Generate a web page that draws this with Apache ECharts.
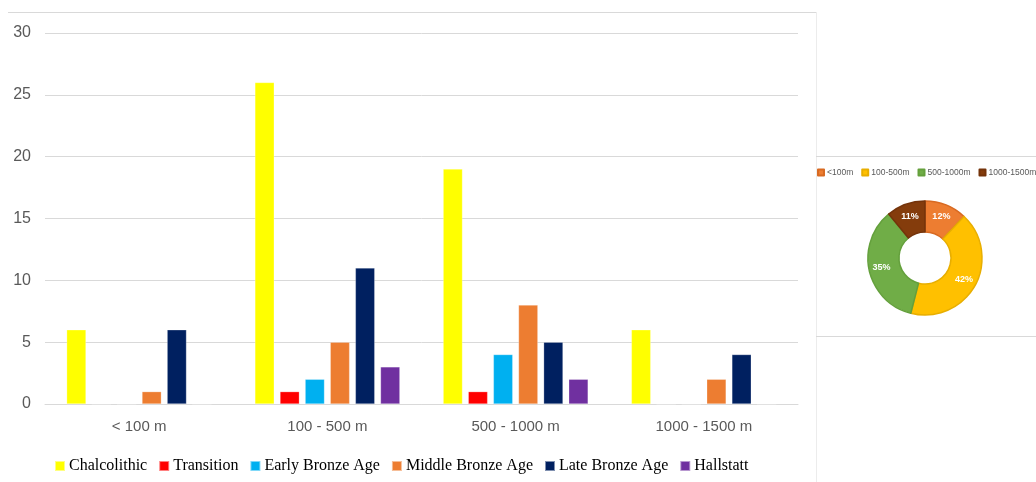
<!DOCTYPE html>
<html>
<head>
<meta charset="utf-8">
<script src="https://cdn.jsdelivr.net/npm/echarts@6/dist/echarts.min.js"></script>
<style>
  html, body { margin: 0; padding: 0; background: #ffffff; }
  #chart { width: 1036px; height: 482px; }
</style>
</head>
<body>
<div id="chart"></div>
<script>
// Altitude bands and site counts per period
const altitudeBands = ['< 100 m', '100 - 500 m', '500 - 1000 m', '1000 - 1500 m'];
const chalcolithic   = [6, 26, 19, 6];
const transition     = [0, 1, 1, 0];
const earlyBronze    = [0, 2, 4, 0];
const middleBronze   = [1, 5, 8, 2];
const lateBronze     = [6, 11, 5, 4];
const hallstatt      = [0, 3, 2, 0];
const yTicks = { min: 0, max: 30, step: 5 };

// Share of sites by altitude (donut)
const pieBands  = ['<100m', '100-500m', '500-1000m', '1000-1500m'];
const pieShares = [12, 42, 35, 11];

const periods = [
  { name: 'Chalcolithic',      data: chalcolithic, color: '#FFFF00' },
  { name: 'Transition',        data: transition,   color: '#FF0000' },
  { name: 'Early Bronze Age',  data: earlyBronze,  color: '#00B0F0' },
  { name: 'Middle Bronze Age', data: middleBronze, color: '#ED7D31' },
  { name: 'Late Bronze Age',   data: lateBronze,   color: '#002060' },
  { name: 'Hallstatt',         data: hallstatt,    color: '#7030A0' }
];
const pieColors  = ['#ED7D31', '#FFC000', '#70AD47', '#843C0C'];
const pieBorders = ['#D86A22', '#E8AE00', '#64A03C', '#74330A'];

const chart = echarts.init(document.getElementById('chart'), null, { renderer: 'canvas' });

const frame = '#d9d9d9';
const option = {
  animation: false,
  backgroundColor: '#ffffff',
  grid: { left: 45, right: 238, top: 33, bottom: 78, containLabel: false },
  legend: [{
    data: periods.map(p => p.name),
    left: 49, top: 453,
    itemWidth: 10, itemHeight: 10, itemGap: 11,
    icon: 'rect',
    textStyle: { fontFamily: 'Liberation Serif', fontSize: 16, color: '#000000', padding: [0, 0, 0, -1] }
  }, {
    data: pieBands,
    left: 812, top: 163,
    width: 400,
    itemWidth: 6, itemHeight: 6, itemGap: 8,
    icon: 'rect',
    textStyle: { fontFamily: 'Liberation Sans', fontSize: 8.5, color: '#595959', padding: [0, 0, 0, -2] }
  }],
  xAxis: {
    type: 'category',
    data: altitudeBands,
    axisLine: { show: true, lineStyle: { color: frame, width: 1 } },
    axisTick: { show: false },
    axisLabel: { fontFamily: 'Liberation Sans', fontSize: 15, color: '#595959', margin: 15 }
  },
  yAxis: {
    type: 'value',
    min: yTicks.min, max: yTicks.max, interval: yTicks.step,
    axisLine: { show: false },
    axisTick: { show: false },
    splitLine: { lineStyle: { color: frame, width: 1 } },
    axisLabel: { fontFamily: 'Liberation Sans', fontSize: 16, color: '#595959', margin: 14 }
  },
  series: periods.map(p => ({
    name: p.name,
    type: 'bar',
    data: p.data,
    barGap: '30%',
    barCategoryGap: '23%',
    itemStyle: { color: p.color, borderColor: 'rgba(255,255,255,0.5)', borderWidth: 0.5 }
  })).concat([{
    name: 'Altitude',
    type: 'pie',
    center: [925, 258],
    radius: [26, 57],
    startAngle: 90,
    clockwise: true,
    avoidLabelOverlap: false,
    label: {
      show: true, position: 'inside',
      formatter: '{c}%',
      color: '#ffffff', fontFamily: 'Liberation Sans', fontSize: 9, fontWeight: 'bold'
    },
    labelLine: { show: false },
    data: pieBands.map((b, i) => ({
      name: b, value: pieShares[i],
      itemStyle: { color: pieColors[i], borderColor: pieBorders[i], borderWidth: 1.5 }
    }))
  }]),
  graphic: [
    { type: 'line', shape: { x1: 8, y1: 12.5, x2: 816, y2: 12.5 }, style: { stroke: frame, lineWidth: 1.2 } },
    { type: 'line', shape: { x1: 816.5, y1: 12, x2: 816.5, y2: 482 }, style: { stroke: '#ececec', lineWidth: 1 } },
    { type: 'line', shape: { x1: 816, y1: 156.5, x2: 1036, y2: 156.5 }, style: { stroke: frame, lineWidth: 1.2 } },
    { type: 'line', shape: { x1: 816, y1: 336.5, x2: 1036, y2: 336.5 }, style: { stroke: frame, lineWidth: 1.2 } }
  ]
};
chart.setOption(option);
</script>
</body>
</html>
